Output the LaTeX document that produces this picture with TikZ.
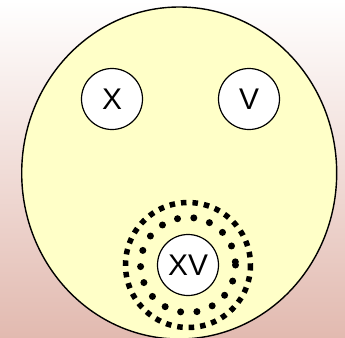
\documentclass[tikz,border=0pt]{standalone}
\usepackage{fontspec}
\setmainfont{Liberation Sans}
\begin{document}
\begin{tikzpicture}[x=1bp,y=-1bp]
\definecolor{bgpink}{RGB}{226,186,176}
\definecolor{faceyellow}{RGB}{255,255,200}
\tikzset{numeral/.style={circle,draw=black,fill=white,line width=1.2bp,minimum size=61bp,inner sep=0pt,font=\fontsize{30}{30}\selectfont}}
\useasboundingbox (0,0) rectangle (345,338);
\shade[top color=white,bottom color=bgpink] (0,0) rectangle (345,338);
\clip (0,0) rectangle (345,338);
\draw[black,fill=faceyellow,line width=1.4bp] (179.2,173) ellipse (157.5 and 166);
\node[numeral] (ten) at (112,99) {X};
\node[numeral] (five) at (249,99) {V};
\node[numeral] (fifteen) at (188,265) {XV};
\draw[black,line width=5.5bp,dash pattern=on 5.5bp off 6bp] (fifteen.center) circle (62.5);
\draw[black,line width=7bp,line cap=round,dash pattern=on 0bp off 16.4bp] (fifteen.center) circle (47.5);
\end{tikzpicture}
\end{document}
